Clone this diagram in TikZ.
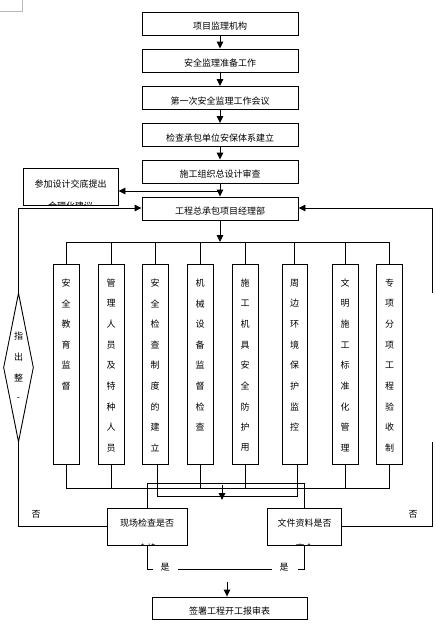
\documentclass[tikz,border=0pt]{standalone}
\usepackage{fontspec}
\newfontfamily\cjk{Noto Sans CJK SC}
\usetikzlibrary{arrows.meta,shapes.geometric}
\begin{document}
\begin{tikzpicture}[x=1pt,y=-1pt,line width=0.9pt,
  box/.style={draw, line width=0.9pt, inner sep=0pt},
  txt/.style={inner sep=0pt, font=\cjk\fontsize{9}{10}\selectfont},
  arr/.style={-{Triangle[width=6.5pt,length=7pt]}},
  topbox/.style={box, minimum width=156pt, minimum height=23pt},
  vbox/.style={box, minimum width=26pt, minimum height=200pt},
]
\useasboundingbox (0,0) rectangle (436,638);
% page corner mark
\draw[gray!55, line width=0.7pt] (0,11.5) -- (22,11.5) -- (22,0);

% top chain
\node[topbox, label={[txt,yshift=-3pt]center:项目监理机构}] (b1) at (220,23.5) {};
\node[topbox, label={[txt,yshift=-3pt]center:安全监理准备工作}] (b2) at (220,60.5) {};
\node[topbox, label={[txt,yshift=-3pt]center:第一次安全监理工作会议}] (b3) at (220,98) {};
\node[topbox, label={[txt,yshift=-3pt]center:检查承包单位安保体系建立}] (b4) at (220,135) {};
\node[topbox, label={[txt,yshift=-3pt]center:施工组织总设计审查}] (b5) at (220,171.5) {};
\node[topbox, label={[txt,yshift=-3pt]center:工程总承包项目经理部}] (b6) at (220,208.5) {};
\draw[arr] (b1) -- (b2);
\draw[arr] (b2) -- (b3);
\draw[arr] (b3) -- (b4);
\draw[arr] (b4) -- (b5);
\draw[arr] (b5) -- (b6);

% side box
\node[box, minimum width=95pt, minimum height=37pt, path picture={
  \node[txt, yshift=2.5pt] (Lt1) at (path picture bounding box.center) {参加设计交底提出};
  \node[txt, yshift=-19.5pt] (Lt2) at (path picture bounding box.center) {合理化建议};
}] (L) at (70.5,186.5) {};
\coordinate (j1) at (220,191);
\draw[arr] (j1) -- (j1 -| L.east);

% vertical boxes
\node[vbox] (v1) at (66,364) {};
\node[vbox] (v2) at (111,364) {};
\node[vbox] (v3) at (155,364) {};
\node[vbox] (v4) at (200,364) {};
\node[vbox] (v5) at (245,364) {};
\node[vbox, minimum width=25pt] (v6) at (294.5,364) {};
\node[vbox] (v7) at (345,364) {};
\node[vbox] (v8) at (389.5,364) {};

\foreach \c [count=\i] in {安,全,教,育,监,督}
  \node[txt] (t1\i) at (66,283+20.6*\i-20.6) {\c};
\foreach \c [count=\i] in {管,理,人,员,及,特,种,人,员}
  \node[txt] (t2\i) at (111,283+20.6*\i-20.6) {\c};
\foreach \c [count=\i] in {安,全,检,查,制,度,的,建,立}
  \node[txt] (t3\i) at (155,283+20.6*\i-20.6) {\c};
\foreach \c [count=\i] in {机,械,设,备,监,督,检,查}
  \node[txt] (t4\i) at (200,283+20.6*\i-20.6) {\c};
\foreach \c [count=\i] in {施,工,机,具,安,全,防,护,用}
  \node[txt] (t5\i) at (245,283+20.6*\i-20.6) {\c};
\foreach \c [count=\i] in {周,边,环,境,保,护,监,控}
  \node[txt] (t6\i) at (294.5,283+20.6*\i-20.6) {\c};
\foreach \c [count=\i] in {文,明,施,工,标,准,化,管,理}
  \node[txt] (t7\i) at (345,283+20.6*\i-20.6) {\c};
\foreach \c [count=\i] in {专,项,分,项,工,程,验,收,制}
  \node[txt] (t8\i) at (389.5,283+20.6*\i-20.6) {\c};

% distribution
\coordinate (dist) at (220,242);
\draw[arr] (b6) -- (dist);
\draw (v1.north |- dist) -- (v8.north |- dist);
\foreach \k in {1,...,8} \draw (v\k.north |- dist) -- (v\k.north);

% collection
\coordinate (col) at (220,488);
\draw (v1.south |- col) -- (v8.south |- col);
\foreach \k in {1,2,4,5,7,8} \draw (v\k.south) -- (v\k.south |- col);
\coordinate (col2) at (220,496);
\draw ([xshift=2pt]v3.south) -- ([xshift=2pt]v3.south |- col2) -- ([xshift=2.5pt]v6.south |- col2) -- ([xshift=2.5pt]v6.south);

% check boxes
\node[box, minimum width=80pt, minimum height=37pt, path picture={
  \node[txt, yshift=3.5pt] (Xt1) at (path picture bounding box.center) {现场检查是否};
  \node[txt, yshift=-21.5pt] (Xt2) at (path picture bounding box.center) {合格};
}] (X) at (147,526.5) {};
\node[box, minimum width=74pt, minimum height=37pt, path picture={
  \node[txt, yshift=3.5pt] (Wt1) at (path picture bounding box.center) {文件资料是否};
  \node[txt, yshift=-21.5pt] (Wt2) at (path picture bounding box.center) {齐全};
}] (W) at (304.5,526.5) {};
\draw (X.north) -- ++(0,-24) -| (W.north);
\coordinate (ma) at (222,485);
\draw[arr] (ma) -- ++(0,15);

% left loop
\node[draw, diamond, line width=0.9pt, minimum width=30pt, minimum height=149pt, inner sep=0pt] (dm) at (18.5,367.5) {};
\node[txt] (d1) at (18.5,336) {指};
\node[txt] (d2) at (18.5,357) {出};
\node[txt] (d3) at (18.5,378) {整};
\node[txt] (d4) at (18.5,399) {-};
\coordinate (lt) at (18.5,208);
\draw[arr] (lt) -- (lt -| b6.west);
\draw (lt) -- (dm.north);
\draw (dm.south) |- (X.west);
\node[txt] (n1) at (36,514) {否};

% right loop
\coordinate (rt) at (432,208);
\draw[arr] (rt) -- (rt -| b6.east);
\coordinate (rg1) at (432,293);
\coordinate (rg2) at (432,442);
\draw (rt) -- (rg1);
\draw (rg2) |- (W.east);
\node[txt] (n2) at (413,514) {否};

% yes paths
\draw (X.south) -- ++(0,24) -- ++(6,0);
\node[txt] (y1) at (165,567) {是};
\coordinate (bm1) at (178,569);
\coordinate (bm2) at (272,569);
\draw (bm1) -- (bm2);
\node[txt] (y2) at (284,567) {是};
\draw (W.south) -- ++(0,24) -- ++(-7,0);

% final
\node[box, minimum width=155pt, minimum height=22pt, label={[txt,yshift=-3.5pt]center:签署工程开工报审表}] (F) at (229.5,608) {};
\coordinate (fa) at (227,582);
\draw[arr] (fa) -- (fa |- F.north);
\end{tikzpicture}
\end{document}
